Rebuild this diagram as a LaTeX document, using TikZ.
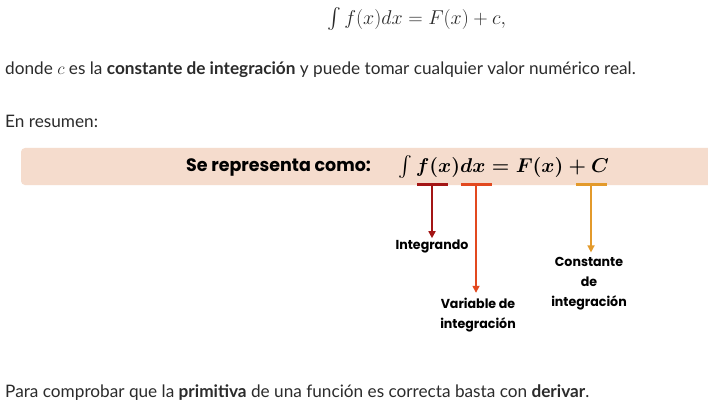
\RequirePackage{fix-cm}
\documentclass[tikz,border=0pt]{standalone}
\usepackage{amsmath}
\usepackage{fontspec}
\usetikzlibrary{arrows.meta,positioning}
\newfontfamily\bodyfont{Lato}
\newfontfamily\labelfont[FakeStretch=0.97]{Poppins}
\definecolor{bandfill}{HTML}{F5DCCD}
\definecolor{integrandcol}{HTML}{A31515}
\definecolor{varcol}{HTML}{E2491F}
\definecolor{constcol}{HTML}{E39A2B}
\definecolor{bodytext}{HTML}{2B2B2B}

\begin{document}
\begin{tikzpicture}[x=1pt,y=-1pt,
  line/.style={font=\bodyfont\fontsize{17.2}{20}\selectfont, text=bodytext, anchor=west, inner sep=0pt},
  tag/.style={font=\labelfont\bfseries\fontsize{13}{20}\selectfont, align=center, inner sep=1pt},
  underbar/.style={fill=#1, minimum width=31pt, minimum height=3pt, inner sep=0pt},
  pointer/.style={draw=#1, line width=1.6pt, -{Triangle[width=7pt,length=7pt]}}]

  \useasboundingbox (0,0) rectangle (708,414);
  \fill[white] (0,0) rectangle (708,414);

  % Band
  \begin{scope}
    \clip (0,0) rectangle (708,414);
    \fill[bandfill, rounded corners=4pt] (21,148) rectangle (720,185);
  \end{scope}

  % Nodes
  \node[line, font=\fontsize{20}{24}\selectfont] (eq) at (327,19.5) {$\int f(x)dx = F(x) + c,$};
  \node[line] (donde) at (5,70) {donde $c$ es la \textbf{constante de integración} y puede tomar cualquier valor numérico real.};
  \node[line] (resumen) at (5,121) {En resumen:};
  \node[line] (para) at (5,393) {Para comprobar que la \textbf{primitiva} de una función es correcta basta con \textbf{derivar}.};

  \node[tag, font=\labelfont\bfseries\fontsize{18}{20}\selectfont, anchor=west] (se) at (185,167) {Se representa como:};
  \node[anchor=west, inner sep=0pt, font=\fontsize{20}{24}\selectfont\boldmath] (form) at (398,167) {$\int f(x)dx = F(x) + C$};

  \node[underbar=integrandcol] (bI) at (432,184.5) {};
  \node[underbar=varcol] (bV) at (476,184.5) {};
  \node[underbar=constcol] (bC) at (591,184.5) {};

  \node[tag] (lI) at (432,246) {Integrando};
  \node[tag] (lV) at (478,315) {Variable de\\integración};
  \node[tag] (lC) at (589,284) {Constante\\de\\integración};

  % Manually draw edges
  \draw[pointer=integrandcol] (bI.south) -- (bI.south |- lI.north);
  \draw[pointer=varcol] (bV.south) -- ([yshift=4pt]bV.south |- lV.north);
  \draw[pointer=constcol] (bC.south) -- ([yshift=4pt]bC.south |- lC.north);

\end{tikzpicture}
\end{document}
